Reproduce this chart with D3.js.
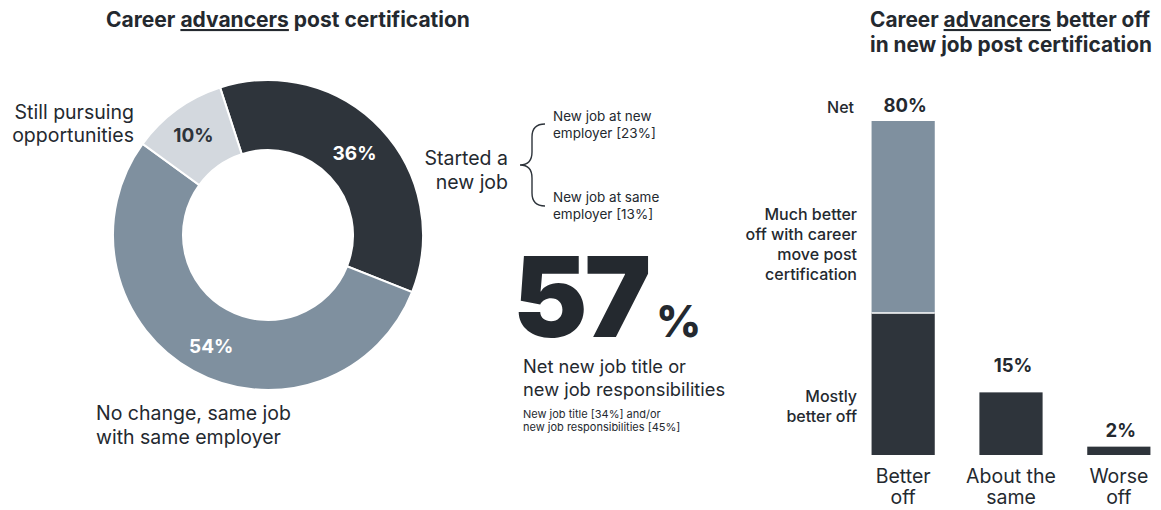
<!DOCTYPE html>
<html>
<head>
<meta charset="utf-8">
<script src="https://d3js.org/d3.v7.min.js"></script>
<style>
  body { margin: 0; background: #fff; }
  svg text { font-family: Inter, "Noto Sans", sans-serif; fill: #24292f; }
</style>
</head>
<body>
<script>
// donut data
var donutLabels = ["Started a new job", "No change, same job with same employer", "Still pursuing opportunities"];
var donutValues = [36, 54, 10];
var donutColors = ["#2e343b", "#7f909f", "#d3d8de"];
var donutTextColors = ["#ffffff", "#ffffff", "#2e343b"];

// new job breakdown
var newJobNotes = [["New job at new", "employer [23%]"], ["New job at same", "employer [13%]"]];
var netValue = 57;
var netNote = ["New job title [34%] and/or", "new job responsibilities [45%]"];

// bar chart data
var barCategories = [["Better", "off"], ["About the", "same"], ["Worse", "off"]];
var muchBetter = [46, 0, 0];
var mostlyBetter = [34, 15, 2];
var barTotals = [80, 15, 2];

var w = 1161, h = 510;
var svg = d3.select("body").append("svg").attr("width", w).attr("height", h);

// ---------- left title ----------
var t1 = svg.append("text").attr("x", 288).attr("y", 27).attr("text-anchor", "middle")
  .attr("font-size", 21).attr("font-weight", 700);
t1.append("tspan").text("Career ");
t1.append("tspan").text("advancers").attr("text-decoration", "underline");
t1.append("tspan").text(" post certification");

// ---------- donut ----------
var cx = 268, cy = 235, rOuter = 155, rInner = 85;
var start = -18 * Math.PI / 180;
var pie = d3.pie().sort(null).startAngle(start).endAngle(start + 2 * Math.PI);
var arc = d3.arc().innerRadius(rInner).outerRadius(rOuter);
var g = svg.append("g").attr("transform", "translate(" + cx + "," + cy + ")");
var arcs = pie(donutValues);
g.selectAll("path").data(arcs).enter().append("path")
  .attr("d", arc)
  .attr("fill", function(d, i) { return donutColors[i]; })
  .attr("stroke", "#fff").attr("stroke-width", 2);

var labelArc = d3.arc().innerRadius(120).outerRadius(120);
var nudge = [[-1, 0], [1, 6], [-4, -3]];
g.selectAll("text.pct").data(arcs).enter().append("text")
  .attr("class", "pct")
  .attr("transform", function(d, i) {
    var c = labelArc.centroid(d);
    return "translate(" + (c[0] + nudge[i][0]) + "," + (c[1] + nudge[i][1]) + ")";
  })
  .attr("text-anchor", "middle").attr("dy", "0.35em")
  .attr("font-size", 19).attr("font-weight", 700)
  .style("fill", function(d, i) { return donutTextColors[i]; })
  .text(function(d) { return d.data + "%"; });

function multiline(x, y, lines, lh, anchor, size, weight) {
  var t = svg.append("text").attr("x", x).attr("y", y).attr("text-anchor", anchor)
    .attr("font-size", size).attr("font-weight", weight || 400);
  lines.forEach(function(l, i) {
    t.append("tspan").attr("x", x).attr("y", y + i * lh).text(l);
  });
  return t;
}

multiline(134, 119, ["Still pursuing", "opportunities"], 23, "end", 19.5);
multiline(96, 420, ["No change, same job", "with same employer"], 24, "start", 19.5);
multiline(508, 165, ["Started a", "new job"], 24, "end", 19.5);

// brace
svg.append("path")
  .attr("d", "M545,124 Q532,124 532,137 L532,152 Q532,165 520,165 Q532,165 532,178 L532,193 Q532,206 545,206")
  .attr("fill", "none").attr("stroke", "#2e343b").attr("stroke-width", 1.4);
multiline(553, 121, newJobNotes[0], 17, "start", 13.5);
multiline(553, 202, newJobNotes[1], 17, "start", 13.5);

// big number
svg.append("text").attr("x", 513).attr("y", 337)
  .attr("font-size", 112).attr("font-weight", 900).attr("letter-spacing", -3)
  .text(netValue);
svg.append("text").attr("x", 656).attr("y", 337)
  .attr("font-size", 44).attr("font-weight", 800).text("%");
multiline(523, 373, ["Net new job title or", "new job responsibilities"], 23, "start", 18.3);
multiline(523, 418, netNote, 13, "start", 11);

// ---------- right title ----------
var t2 = svg.append("text").attr("x", 870).attr("y", 27).attr("font-size", 20.8).attr("font-weight", 700);
t2.append("tspan").text("Career ");
t2.append("tspan").text("advancers").attr("text-decoration", "underline");
t2.append("tspan").text(" better off");
svg.append("text").attr("x", 870).attr("y", 52).attr("font-size", 20.8).attr("font-weight", 700)
  .text("in new job post certification");

// ---------- bars ----------
var baseY = 455;
var x = d3.scaleBand().domain(d3.range(barCategories.length)).range([850, 1172]).paddingInner(0.414).paddingOuter(0.2);
var y = d3.scaleLinear().domain([0, 80]).range([baseY, 121]);

var bw = x.bandwidth();
var bars = svg.append("g");
bars.selectAll("rect.mostly").data(mostlyBetter).enter().append("rect")
  .attr("x", function(d, i) { return x(i); })
  .attr("y", function(d) { return y(d); })
  .attr("width", bw)
  .attr("height", function(d) { return baseY - y(d); })
  .attr("fill", "#2e343b");
bars.selectAll("rect.much").data(muchBetter).enter().append("rect")
  .attr("x", function(d, i) { return x(i); })
  .attr("y", function(d, i) { return y(d + mostlyBetter[i]); })
  .attr("width", bw)
  .attr("height", function(d) { return baseY - y(d); })
  .attr("fill", "#7f909f");
// thin white seam between the two segments
bars.append("line")
  .attr("x1", x(0)).attr("x2", x(0) + bw)
  .attr("y1", y(mostlyBetter[0])).attr("y2", y(mostlyBetter[0]))
  .attr("stroke", "#fff").attr("stroke-width", 1.5);

var labelGap = [9, 20, 10];
svg.selectAll("text.val").data(barTotals).enter().append("text")
  .attr("x", function(d, i) { return x(i) + bw / 2 + 2; })
  .attr("y", function(d, i) { return y(d) - labelGap[i]; })
  .attr("text-anchor", "middle").attr("font-size", 18.5).attr("font-weight", 700)
  .text(function(d) { return d + "%"; });

barCategories.forEach(function(c, i) {
  multiline(x(i) + bw / 2, 483, c, 21, "middle", 19.5);
});

multiline(854, 113, ["Net"], 20, "end", 16, 500);
multiline(857, 220, ["Much better", "off with career", "move post", "certification"], 20, "end", 16, 500);
multiline(857, 402, ["Mostly", "better off"], 20, "end", 16, 500);
</script>
</body>
</html>
